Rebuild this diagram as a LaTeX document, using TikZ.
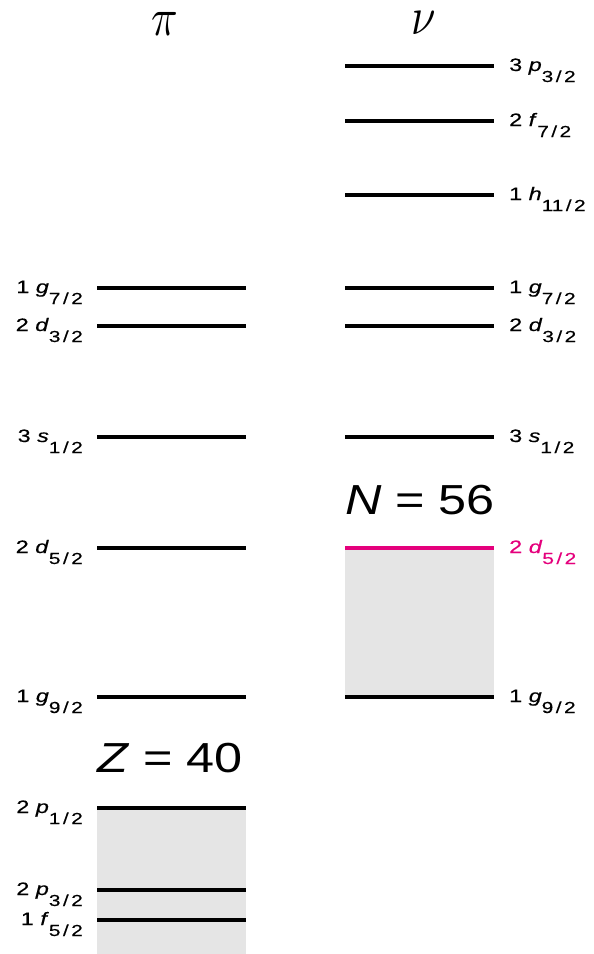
\documentclass[tikz,border=0pt]{standalone}
\usepackage{graphicx}
\usepackage{fontspec}
\newfontfamily\lblfont[FakeStretch=1.3, FakeBold=0.4]{Liberation Sans}
\newfontfamily\magicfont[FakeStretch=1.2]{Liberation Sans}
\definecolor{shellpink}{RGB}{228,0,124}
\definecolor{fillgray}{RGB}{229,229,229}
\newcommand{\orbit}[3]{#1 \textit{#2}\raisebox{-11pt}{\fontsize{16}{16}\selectfont#3\kern2.5pt/\kern2.5pt2}}
\newcommand{\bigsym}[1]{\scalebox{4.4}[5.35]{$#1$}}
\tikzset{
	level/.style={line width=3.6pt},
	lbl/.style={font=\lblfont\fontsize{18}{18}\selectfont, inner sep=0pt},
	magic/.style={font=\magicfont\fontsize{42}{42}\selectfont, inner sep=0pt, anchor=base},
	head/.style={inner sep=0pt, anchor=base}
}
\begin{document}
\begin{tikzpicture}[x=1pt, y=-1pt]
	\useasboundingbox (0,0) rectangle (594,954);
	% filled shells
	\fill[fillgray] (97,808) rectangle (246,954);
	\fill[fillgray] (345,548) rectangle (494,697);
	% headers
	\node[head] (pi) at (165,35) {\bigsym{\pi}};
	\node[head] (nu) at (424,34) {\bigsym{\nu}};
	% proton levels
	\foreach \y/\n/\l/\j [count=\i] in {
			288/1/g/7, 326/2/d/3, 437/3/s/1, 548/2/d/5,
			697/1/g/9, 808/2/p/1, 890/2/p/3, 920/1/f/5} {
			\draw[level] (97,\y) -- (246,\y);
			\node[lbl, anchor=base east] (pl\i) at (83,\y+5) {\orbit{\n}{\l}{\j}};
		}
	% neutron levels
	\foreach \y/\n/\l/\j [count=\i] in {
			66/3/p/3, 121/2/f/7, 195/1/h/11, 288/1/g/7,
			326/2/d/3, 437/3/s/1, 697/1/g/9} {
			\draw[level] (345,\y) -- (494,\y);
			\node[lbl, anchor=base west] (nl\i) at (509,\y+5) {\orbit{\n}{\l}{\j}};
		}
	\draw[level, shellpink] (345,548) -- (494,548);
	\node[lbl, anchor=base west, text=shellpink] (nfermi) at (509,553) {\orbit{2}{d}{5}};
	% magic numbers
	\node[magic] (zmagic) at (170,772) {\textit{Z} = 40};
	\node[magic] (nmagic) at (420,514) {\textit{N} = 56};
\end{tikzpicture}
\end{document}
